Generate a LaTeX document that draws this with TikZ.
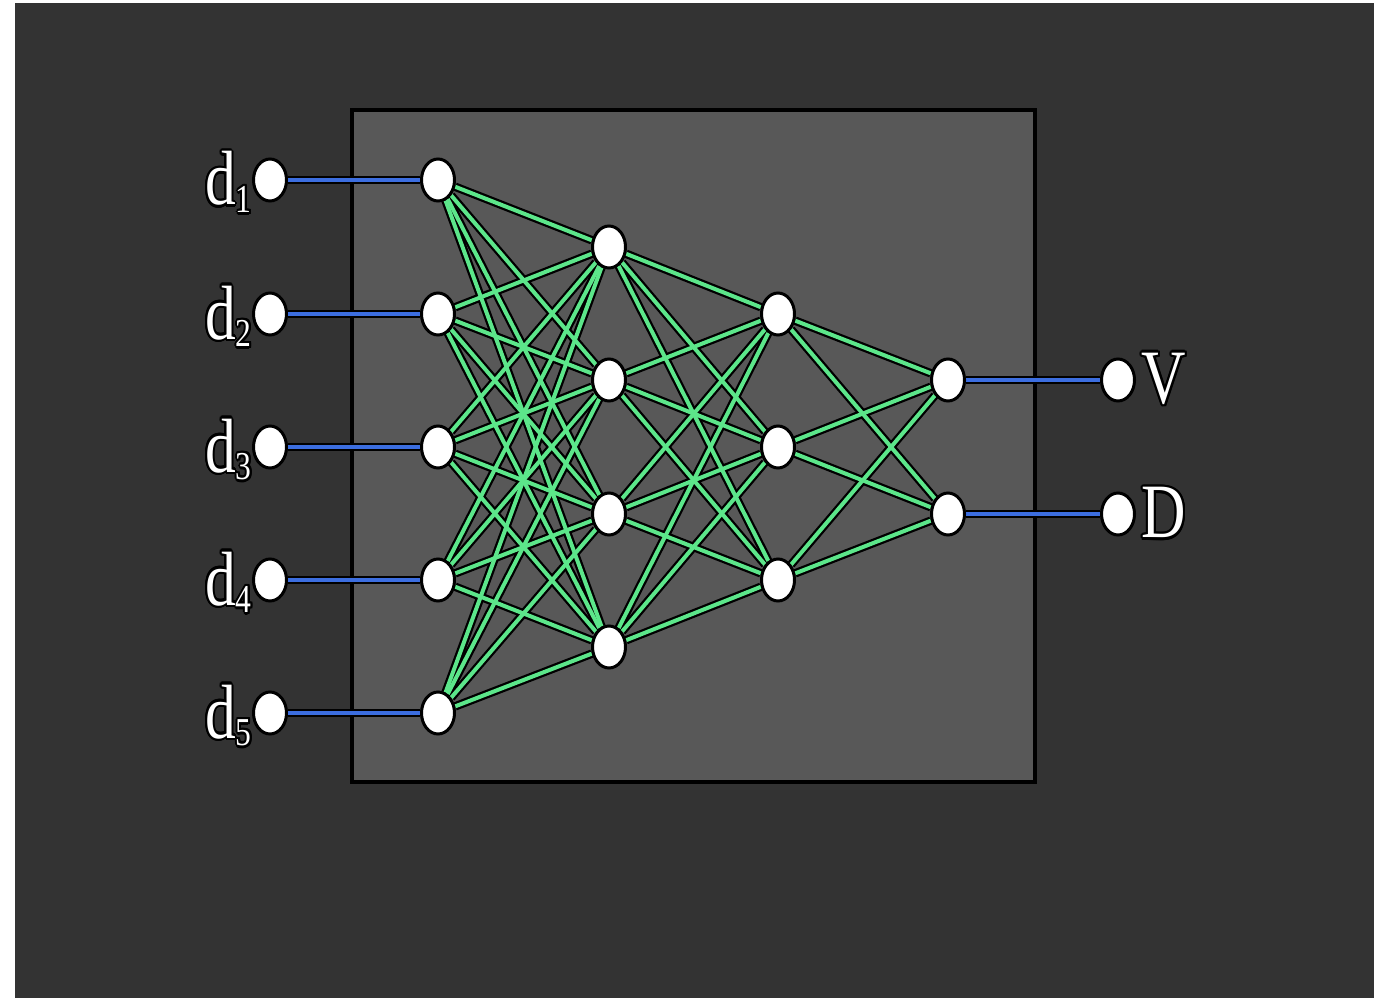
\documentclass[tikz,border=0pt]{standalone}
\usepackage{fontspec}
\setmainfont{Liberation Serif}
\usepackage[copies]{contour}
\contourlength{1.1pt}
\usetikzlibrary{positioning, shapes.geometric}
\definecolor{nnBack}{HTML}{333333}
\definecolor{nnBox}{HTML}{585858}
\definecolor{nnGreen}{HTML}{5CE68A}
\definecolor{nnBlue}{HTML}{3C6EE0}
\pgfdeclarelayer{bg}
\pgfdeclarelayer{wires}
\pgfsetlayers{bg,wires,main}
\newcommand{\nnlabel}[2]{\scalebox{1}[1.25]{\contour{black}{#1\raisebox{-0.1em}{\fontsize{18}{18}\selectfont #2}}}}
\newcommand{\nnout}[1]{\scalebox{1}[1.25]{\contour{black}{#1}}}

\begin{document}
\begin{tikzpicture}[
      neuron/.style={ellipse, draw=black, fill=white, line width=0.06cm,
                     minimum width=0.66cm, minimum height=0.84cm, inner sep=0pt},
      casing/.style={draw=black, line width=0.17cm},
      synapse/.style={draw=nnGreen, line width=0.08cm},
      feed/.style={draw=nnBlue, line width=0.08cm},
      tag/.style={text=white, inner sep=0pt, font=\fontsize{35}{35}\selectfont}]
    \useasboundingbox (0,0) rectangle (27.66,19.96);
    \begin{pgfonlayer}{bg}
      \fill[white] (0,0) rectangle (27.66,19.96);
      \fill[nnBack] (0.3,0) rectangle (27.48,19.9);
      \draw[black, line width=0.08cm, fill=nnBox] (7.04,4.32) rectangle (20.70,17.76);
    \end{pgfonlayer}
    % inputs
    \node[neuron] (x1) at (5.4,16.36) {};
    \node[neuron] (x2) at (5.4,13.68) {};
    \node[neuron] (x3) at (5.4,11.02) {};
    \node[neuron] (x4) at (5.4,8.36) {};
    \node[neuron] (x5) at (5.4,5.70) {};
    % first layer
    \node[neuron] (a1) at (8.76,16.36) {};
    \node[neuron] (a2) at (8.76,13.68) {};
    \node[neuron] (a3) at (8.76,11.02) {};
    \node[neuron] (a4) at (8.76,8.36) {};
    \node[neuron] (a5) at (8.76,5.70) {};
    % second layer
    \node[neuron] (b1) at (12.18,15.02) {};
    \node[neuron] (b2) at (12.18,12.36) {};
    \node[neuron] (b3) at (12.18,9.68) {};
    \node[neuron] (b4) at (12.18,7.02) {};
    % third layer
    \node[neuron] (c1) at (15.56,13.68) {};
    \node[neuron] (c2) at (15.56,11.02) {};
    \node[neuron] (c3) at (15.56,8.36) {};
    % fourth layer
    \node[neuron] (e1) at (18.96,12.36) {};
    \node[neuron] (e2) at (18.96,9.68) {};
    % outputs
    \node[neuron] (o1) at (22.36,12.36) {};
    \node[neuron] (o2) at (22.36,9.68) {};
    % labels
    \node[tag, anchor=base east] (t1) at ([yshift=-0.5cm]x1.west) {\nnlabel{d}{1}};
    \node[tag, anchor=base east] (t2) at ([yshift=-0.5cm]x2.west) {\nnlabel{d}{2}};
    \node[tag, anchor=base east] (t3) at ([yshift=-0.5cm]x3.west) {\nnlabel{d}{3}};
    \node[tag, anchor=base east] (t4) at ([yshift=-0.5cm]x4.west) {\nnlabel{d}{4}};
    \node[tag, anchor=base east] (t5) at ([yshift=-0.5cm]x5.west) {\nnlabel{d}{5}};
    \node[tag, right=3pt of o1] (tv) {\nnout{V}};
    \node[tag, right=3pt of o2] (td) {\nnout{D}};
    \begin{pgfonlayer}{wires}
      % black casing under every wire
      \foreach \i in {1,...,5} \draw[casing] (x\i) -- (a\i);
      \foreach \i in {1,2} \draw[casing] (e\i) -- (o\i);
      \foreach \i in {1,...,5} \foreach \j in {1,...,4} \draw[casing] (a\i) -- (b\j);
      \foreach \i in {1,...,4} \foreach \j in {1,2,3} \draw[casing] (b\i) -- (c\j);
      \foreach \i in {1,2,3} \foreach \j in {1,2} \draw[casing] (c\i) -- (e\j);
      % coloured cores
      \foreach \i in {1,...,5} \draw[feed] (x\i) -- (a\i);
      \foreach \i in {1,2} \draw[feed] (e\i) -- (o\i);
      \foreach \i in {1,...,5} \foreach \j in {1,...,4} \draw[synapse] (a\i) -- (b\j);
      \foreach \i in {1,...,4} \foreach \j in {1,2,3} \draw[synapse] (b\i) -- (c\j);
      \foreach \i in {1,2,3} \foreach \j in {1,2} \draw[synapse] (c\i) -- (e\j);
    \end{pgfonlayer}
\end{tikzpicture}
\end{document}
